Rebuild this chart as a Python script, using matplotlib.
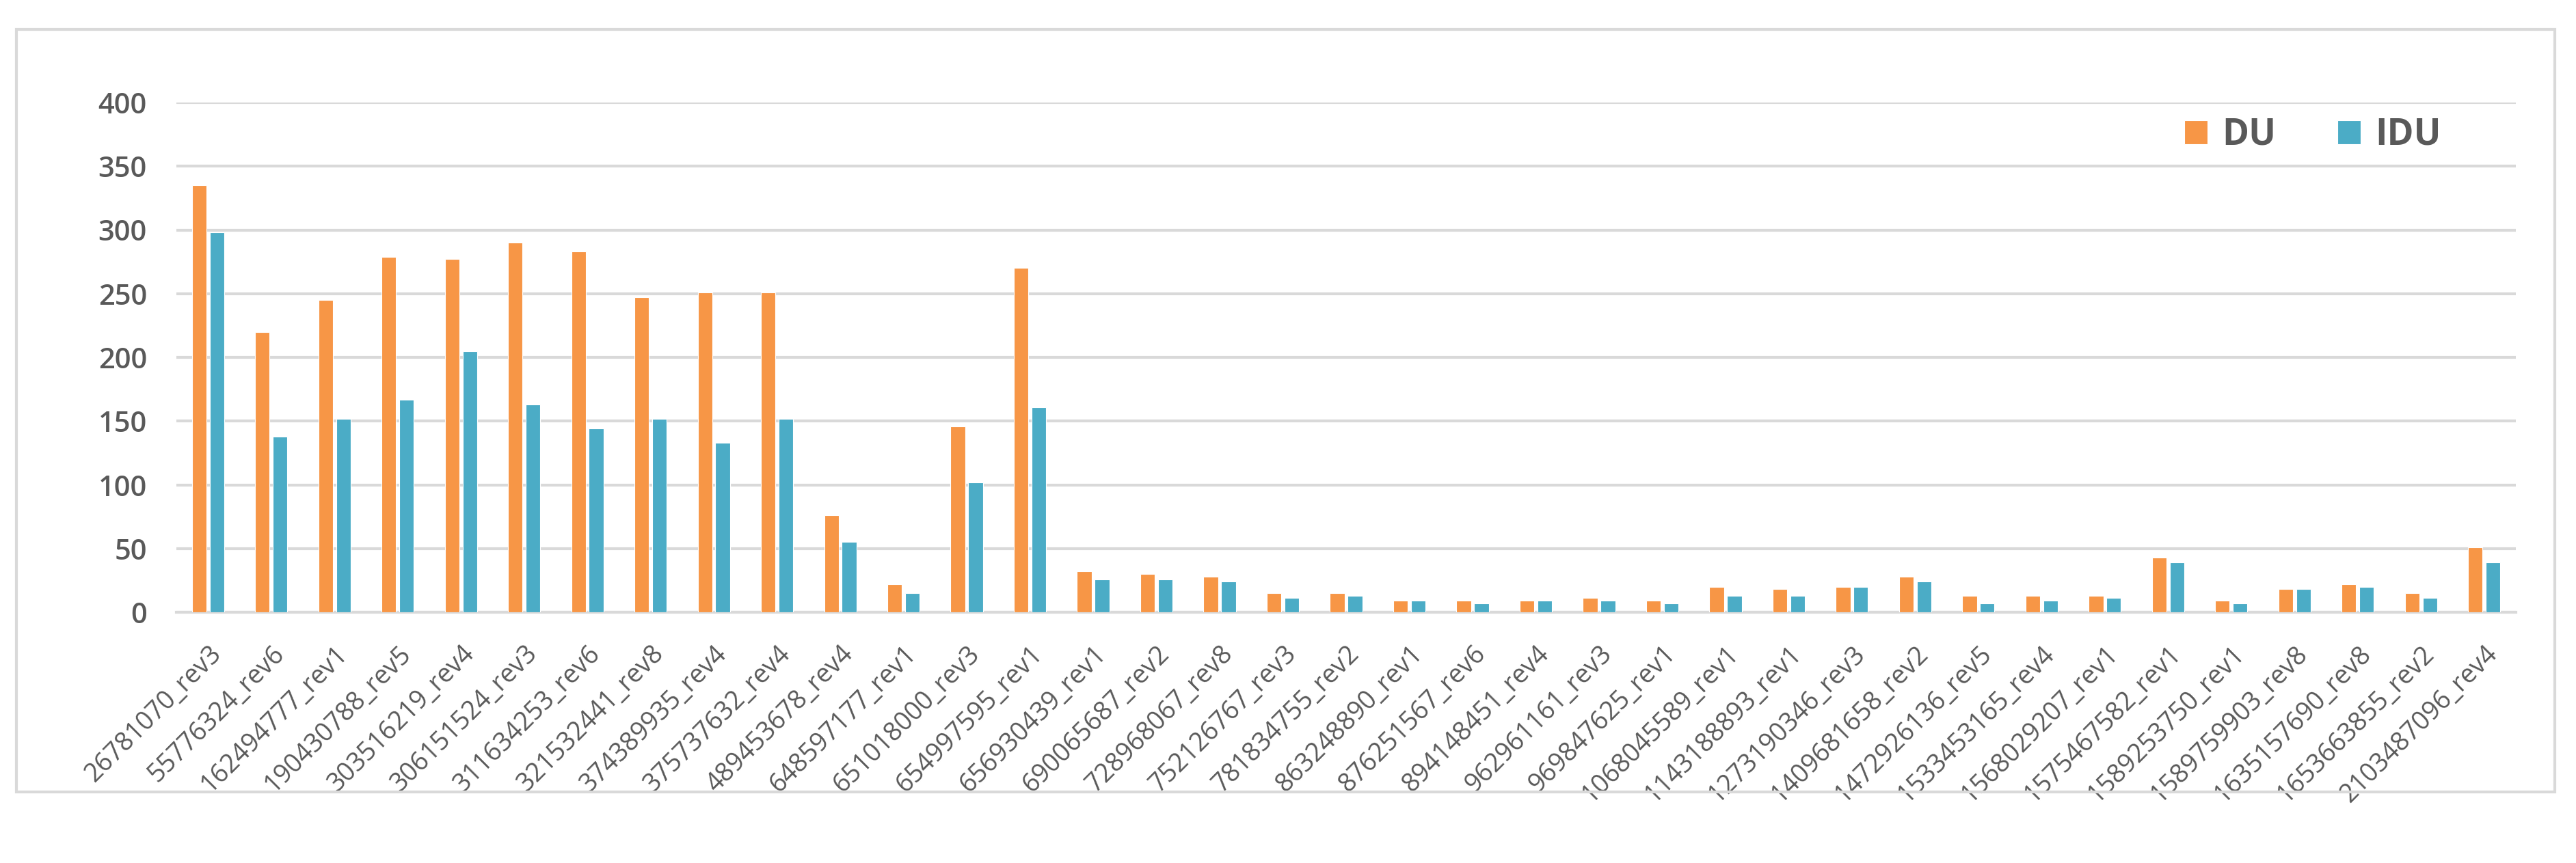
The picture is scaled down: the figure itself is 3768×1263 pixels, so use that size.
# Grouped bars DU / IDU per revision
import numpy as np
import matplotlib.pyplot as plt
from matplotlib.patches import Rectangle

# data
labels = ['26781070_rev3', '55776324_rev6', '162494777_rev1', '190430788_rev5',
          '303516219_rev4', '306151524_rev3', '311634253_rev6', '321532441_rev8',
          '374389935_rev4', '375737632_rev4', '489453678_rev4', '648597177_rev1',
          '651018000_rev3', '654997595_rev1', '656930439_rev1', '690065687_rev2',
          '728968067_rev8', '752126767_rev3', '781834755_rev2', '863248890_rev1',
          '876251567_rev6', '894148451_rev4', '962961161_rev3', '969847625_rev1',
          '1068045589_rev1', '1143188893_rev1', '1273190346_rev3', '1409681658_rev2',
          '1472926136_rev5', '1533453165_rev4', '1568029207_rev1', '1575467582_rev1',
          '1589253750_rev1', '1589759903_rev8', '1635157690_rev8', '1653663855_rev2',
          '2103487096_rev4']
du = [335, 220, 245, 279, 277, 290, 283, 247, 251, 251, 76, 22, 146, 270, 32, 30,
      28, 15, 15, 9, 9, 9, 11, 9, 20, 18, 20, 28, 13, 13, 13, 43, 9, 18, 22, 15, 51]
idu = [298, 138, 152, 167, 205, 163, 144, 152, 133, 152, 55, 15, 102, 161, 26, 26,
       24, 11, 13, 9, 7, 9, 9, 7, 13, 13, 20, 24, 7, 9, 11, 39, 7, 18, 20, 11, 39]

orange = '#F79646'
blue = '#4BACC6'
grid = '#D9D9D9'
txt = '#595959'

fig = plt.figure(figsize=(37.68, 12.63), dpi=100)
ax = fig.add_axes([258 / 3768, 1 - 896 / 1263, (3680 - 258) / 3768, (896 - 150) / 1263])

# outer chart frame
fig.patches.append(Rectangle((24 / 3768, 1 - 1159 / 1263), (3737 - 24) / 3768,
                             (1159 - 43) / 1263, transform=fig.transFigure,
                             fill=False, edgecolor=grid, linewidth=3))

x = np.arange(len(labels))
ax.bar(x - 0.14, du, width=0.23, color=orange, edgecolor='white', linewidth=0.8, label='DU', zorder=3)
ax.bar(x + 0.14, idu, width=0.23, color=blue, edgecolor='white', linewidth=0.8, label='IDU', zorder=3)

ax.set_xlim(-0.5, len(labels) - 0.5)
ax.set_ylim(0, 400)
ax.set_yticks(range(0, 401, 50))
ax.yaxis.grid(True, color=grid, linewidth=3)
ax.set_axisbelow(True)
for s in ['top', 'right', 'left']:
    ax.spines[s].set_visible(False)
ax.spines['bottom'].set_color(grid)
ax.spines['bottom'].set_linewidth(3)

ax.set_xticks(x)
ax.set_xticklabels(labels, rotation=45, ha='right', rotation_mode='anchor',
                   fontsize=27, color=txt, family='Open Sans')
ax.tick_params(axis='x', length=0, pad=30)
ax.tick_params(axis='y', length=0, pad=31, labelsize=30, labelcolor=txt)
for t in ax.get_yticklabels():
    t.set_family('Open Sans')
    t.set_fontweight('semibold')

fig.legend(loc='center', bbox_to_anchor=(3383 / 3768, 1 - 198 / 1263), ncol=2,
           frameon=False, prop={'family': 'Open Sans', 'weight': 'bold', 'size': 38},
           labelcolor=txt, handlelength=0.65, handleheight=0.65, handletextpad=0.4,
           columnspacing=1.7)

fig.savefig('out.png', dpi=100)
